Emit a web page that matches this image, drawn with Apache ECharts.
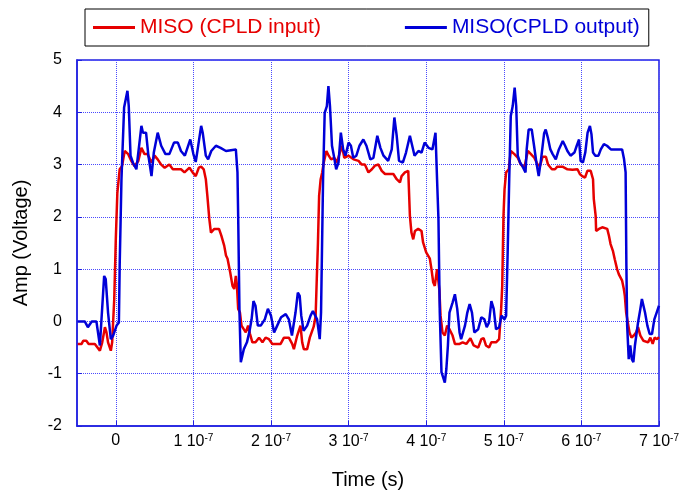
<!DOCTYPE html>
<html>
<head>
<meta charset="utf-8">
<script src="https://cdn.jsdelivr.net/npm/echarts@6/dist/echarts.min.js"></script>
<style>html,body{margin:0;padding:0;background:#fff}#chart{width:682px;height:495px}</style>
</head>
<body>
<div id="chart"></div>
<script>
// time in units of 1e-7 s, amplitude in volts
const xTicks = [0, 1, 2, 3, 4, 5, 6, 7];
const yTicks = [-2, -1, 0, 1, 2, 3, 4, 5];
const seriesNames = ['MISO (CPLD input)', 'MISO(CPLD output)'];

const misoInput = [
[-0.49,-0.43],[-0.44,-0.43],[-0.42,-0.37],[-0.38,-0.37],[-0.35,-0.43],[-0.27,-0.43],[-0.25,-0.40],[-0.205,-0.56],[-0.175,-0.40],[-0.14,-0.11],[-0.12,-0.21],[-0.10,-0.40],[-0.064,-0.56],[-0.047,-0.40],[-0.02,0.43],[0.0,1.57],[0.02,2.46],[0.05,2.91],[0.08,2.97],[0.115,3.26],[0.16,3.20],[0.20,3.07],[0.24,2.97],[0.29,3.07],[0.33,3.32],[0.37,3.20],[0.41,3.20],[0.46,3.04],[0.50,3.17],[0.54,3.10],[0.585,3.00],[0.63,2.94],[0.69,3.00],[0.735,2.91],[0.84,2.91],[0.885,2.85],[0.95,2.94],[0.99,2.85],[1.03,2.78],[1.07,2.94],[1.10,2.96],[1.133,2.91],[1.16,2.72],[1.18,2.40],[1.205,1.96],[1.226,1.70],[1.27,1.77],[1.33,1.77],[1.36,1.64],[1.397,1.45],[1.42,1.26],[1.44,1.20],[1.474,0.94],[1.504,0.68],[1.526,0.62],[1.547,0.87],[1.56,0.71],[1.577,0.24],[1.60,0.17],[1.62,-0.08],[1.645,-0.11],[1.675,-0.21],[1.705,-0.08],[1.73,-0.24],[1.76,-0.40],[1.80,-0.40],[1.846,-0.31],[1.89,-0.40],[1.93,-0.31],[1.974,-0.34],[2.017,-0.43],[2.124,-0.43],[2.167,-0.31],[2.23,-0.31],[2.273,-0.43],[2.295,-0.53],[2.338,-0.27],[2.38,-0.08],[2.402,-0.40],[2.423,-0.53],[2.466,-0.53],[2.50,-0.31],[2.55,-0.10],[2.575,0.10],[2.59,0.81],[2.605,1.50],[2.62,2.40],[2.64,2.72],[2.66,2.85],[2.68,3.04],[2.714,3.26],[2.744,3.17],[2.774,3.10],[2.816,3.13],[2.85,3.04],[2.915,3.36],[2.944,3.13],[3.0,3.17],[3.064,3.10],[3.128,3.07],[3.17,3.00],[3.21,3.00],[3.256,2.85],[3.30,2.91],[3.34,2.98],[3.385,3.00],[3.427,2.88],[3.47,2.82],[3.577,2.82],[3.62,2.72],[3.662,2.66],[3.683,2.78],[3.726,2.85],[3.769,2.88],[3.79,2.02],[3.81,1.70],[3.833,1.57],[3.855,1.73],[3.897,1.77],[3.94,1.73],[3.96,1.51],[4.0,1.32],[4.047,1.20],[4.068,1.00],[4.09,0.75],[4.111,0.68],[4.14,1.00],[4.17,0.60],[4.185,0.11],[4.21,-0.21],[4.24,-0.27],[4.27,-0.08],[4.30,-0.15],[4.34,-0.27],[4.37,-0.43],[4.43,-0.43],[4.47,-0.40],[4.517,-0.43],[4.57,-0.32],[4.612,-0.46],[4.67,-0.50],[4.71,-0.34],[4.74,-0.32],[4.77,-0.46],[4.81,-0.50],[4.84,-0.40],[4.90,-0.40],[4.94,-0.34],[4.966,0.24],[4.98,0.68],[4.996,2.02],[5.01,2.53],[5.03,2.85],[5.065,2.91],[5.09,3.26],[5.137,3.20],[5.18,3.13],[5.22,3.00],[5.265,2.94],[5.31,3.26],[5.35,3.20],[5.393,3.13],[5.436,3.00],[5.466,2.97],[5.50,3.15],[5.543,3.15],[5.57,3.00],[5.62,2.91],[5.66,2.91],[5.69,2.96],[5.756,2.96],[5.82,2.91],[5.885,2.90],[5.95,2.91],[5.98,2.82],[6.01,2.78],[6.047,2.75],[6.077,2.88],[6.12,2.88],[6.15,2.72],[6.16,2.34],[6.184,2.02],[6.19,1.73],[6.226,1.77],[6.269,1.80],[6.333,1.77],[6.355,1.64],[6.376,1.48],[6.406,1.35],[6.43,1.19],[6.46,1.00],[6.483,0.90],[6.525,0.78],[6.547,0.62],[6.56,0.49],[6.577,0.17],[6.60,0.17],[6.62,-0.21],[6.645,-0.31],[6.675,-0.27],[6.705,-0.21],[6.73,-0.11],[6.76,-0.27],[6.80,-0.37],[6.859,-0.40],[6.889,-0.31],[6.919,-0.43],[6.944,-0.31],[6.974,-0.34],[7.0,-0.30]
];

const misoOutput = [
[-0.49,0.0],[-0.40,0.0],[-0.36,-0.11],[-0.31,0.0],[-0.25,0.0],[-0.205,-0.46],[-0.15,0.87],[-0.13,0.81],[-0.10,0.17],[-0.064,-0.34],[-0.034,-0.27],[0.01,-0.08],[0.04,-0.02],[0.05,1.06],[0.073,2.72],[0.107,4.09],[0.15,4.41],[0.167,4.12],[0.19,3.17],[0.22,3.04],[0.265,2.91],[0.295,3.29],[0.33,3.74],[0.35,3.61],[0.39,3.61],[0.42,3.17],[0.46,2.78],[0.49,3.23],[0.54,3.61],[0.585,3.36],[0.64,3.20],[0.69,3.20],[0.75,3.42],[0.80,3.42],[0.84,3.26],[0.89,3.17],[0.96,3.48],[1.0,3.20],[1.03,3.05],[1.055,3.29],[1.10,3.74],[1.12,3.61],[1.16,3.17],[1.19,3.10],[1.23,3.26],[1.29,3.36],[1.31,3.39],[1.35,3.32],[1.42,3.26],[1.44,3.29],[1.547,3.29],[1.568,2.85],[1.577,2.02],[1.594,0.17],[1.611,-0.78],[1.63,-0.66],[1.65,-0.53],[1.69,-0.40],[1.72,-0.21],[1.75,0.04],[1.774,0.39],[1.80,0.30],[1.83,-0.08],[1.868,-0.08],[1.92,0.04],[1.96,0.24],[2.0,0.11],[2.04,-0.21],[2.08,-0.08],[2.13,0.08],[2.19,0.14],[2.23,0.04],[2.27,-0.27],[2.316,0.17],[2.346,0.55],[2.37,0.49],[2.39,0.11],[2.42,-0.18],[2.466,-0.08],[2.51,0.11],[2.54,0.20],[2.57,0.11],[2.594,0.04],[2.628,-0.34],[2.645,0.17],[2.671,2.72],[2.692,3.99],[2.72,4.12],[2.74,4.50],[2.76,4.12],[2.786,3.36],[2.81,3.17],[2.84,2.91],[2.87,3.04],[2.90,3.61],[2.93,3.29],[2.96,3.17],[3.0,3.42],[3.03,3.36],[3.06,3.13],[3.10,3.17],[3.14,3.36],[3.19,3.48],[3.23,3.36],[3.28,3.10],[3.32,3.13],[3.37,3.55],[3.41,3.32],[3.45,3.17],[3.51,3.07],[3.556,3.29],[3.59,3.90],[3.62,3.55],[3.65,3.07],[3.70,3.04],[3.74,3.23],[3.79,3.55],[3.82,3.36],[3.85,3.17],[3.90,3.26],[3.94,3.23],[3.98,3.42],[4.03,3.32],[4.08,3.29],[4.12,3.61],[4.14,2.72],[4.158,1.96],[4.175,0.17],[4.197,-0.97],[4.22,-0.97],[4.24,-1.17],[4.26,-0.91],[4.28,-0.46],[4.30,0.17],[4.34,0.36],[4.37,0.52],[4.40,0.24],[4.43,-0.21],[4.45,-0.34],[4.50,-0.08],[4.53,0.17],[4.56,0.33],[4.59,0.17],[4.62,-0.21],[4.67,-0.15],[4.71,0.08],[4.75,0.04],[4.78,-0.11],[4.81,-0.02],[4.84,0.39],[4.87,0.24],[4.90,-0.15],[4.94,-0.11],[4.97,0.11],[4.99,0.14],[5.01,0.04],[5.03,0.11],[5.05,1.32],[5.07,2.72],[5.09,3.93],[5.115,4.12],[5.14,4.47],[5.16,4.12],[5.18,3.17],[5.21,3.04],[5.24,2.97],[5.28,2.85],[5.295,3.29],[5.32,3.67],[5.36,3.67],[5.39,3.36],[5.42,3.04],[5.45,2.78],[5.48,3.10],[5.52,3.60],[5.54,3.67],[5.57,3.50],[5.60,3.29],[5.63,3.20],[5.67,3.10],[5.71,3.29],[5.76,3.45],[5.79,3.36],[5.82,3.26],[5.86,3.17],[5.91,3.23],[5.94,3.36],[5.97,3.48],[5.99,3.07],[6.02,3.04],[6.05,3.23],[6.08,3.61],[6.11,3.74],[6.13,3.58],[6.15,3.23],[6.18,3.17],[6.22,3.17],[6.25,3.29],[6.29,3.39],[6.33,3.36],[6.38,3.29],[6.525,3.29],[6.55,3.10],[6.57,2.85],[6.58,1.06],[6.59,-0.08],[6.61,-0.72],[6.63,-0.46],[6.65,-0.72],[6.67,-0.78],[6.69,-0.46],[6.73,-0.02],[6.76,0.24],[6.78,0.43],[6.80,0.43],[6.82,0.17],[6.85,-0.08],[6.88,-0.24],[6.91,-0.24],[6.94,0.04],[6.97,0.17],[7.0,0.30]
];

const RED = '#e60000';
const BLUE = '#0000d8';
const FRAME = '#2020e0';
const GRIDC = '#4a4aff';
const FONT = '"Liberation Sans", Arial, sans-serif';

const chart = echarts.init(document.getElementById('chart'), null, {renderer: 'canvas'});
chart.setOption({
  animation: false,
  backgroundColor: '#fff',
  legend: {
    left: 85, top: 9,
    padding: [8, 9, 8, 8],
    borderColor: '#000', borderWidth: 1,
    itemGap: 84, itemWidth: 42, itemHeight: 3,
    icon: 'rect',
    textStyle: {fontFamily: FONT, fontSize: 21},
    data: [
      {name: seriesNames[0], textStyle: {color: RED}},
      {name: seriesNames[1], textStyle: {color: BLUE}}
    ]
  },
  grid: {
    left: 77, right: 20, top: 60, bottom: 68,
    show: true, borderColor: FRAME, borderWidth: 1.5, backgroundColor: 'transparent'
  },
  xAxis: {
    type: 'value', min: -0.5, max: 7,
    name: 'Time (s)', nameLocation: 'middle', nameGap: 44,
    nameTextStyle: {fontFamily: FONT, fontSize: 20, color: '#000'},
    axisLine: {show: true, onZero: false, lineStyle: {color: FRAME, width: 1.5}},
    axisTick: {show: true, inside: true, length: 5, customValues: xTicks, lineStyle: {color: FRAME}},
    axisLabel: {
      customValues: xTicks, margin: 7, color: '#000', fontFamily: FONT, fontSize: 16,
      formatter: v => v === 0 ? '0' : v + ' 10{sup|-7}',
      rich: {sup: {fontSize: 10, fontFamily: FONT, color: '#000', verticalAlign: 'top', padding: [0, 0, 8, 0]}}
    },
    splitLine: {show: true, lineStyle: {color: GRIDC, type: 'dotted', width: 1}}
  },
  yAxis: {
    type: 'value', min: yTicks[0], max: yTicks[yTicks.length - 1], interval: 1,
    name: 'Amp (Voltage)', nameLocation: 'middle', nameGap: 46,
    nameTextStyle: {fontFamily: FONT, fontSize: 20, color: '#000'},
    axisLine: {show: true, onZero: false, lineStyle: {color: FRAME, width: 1.5}},
    axisTick: {show: true, inside: true, length: 5, lineStyle: {color: FRAME}},
    axisLabel: {margin: 15, color: '#000', fontFamily: FONT, fontSize: 16},
    splitLine: {show: true, lineStyle: {color: GRIDC, type: 'dotted', width: 1}}
  },
  series: [
    {name: seriesNames[0], type: 'line', data: misoInput, showSymbol: false, color: RED,
     lineStyle: {color: RED, width: 2.5}, z: 2},
    {name: seriesNames[1], type: 'line', data: misoOutput, showSymbol: false, color: BLUE,
     lineStyle: {color: BLUE, width: 2.5}, z: 3}
  ]
});
</script>
</body>
</html>
